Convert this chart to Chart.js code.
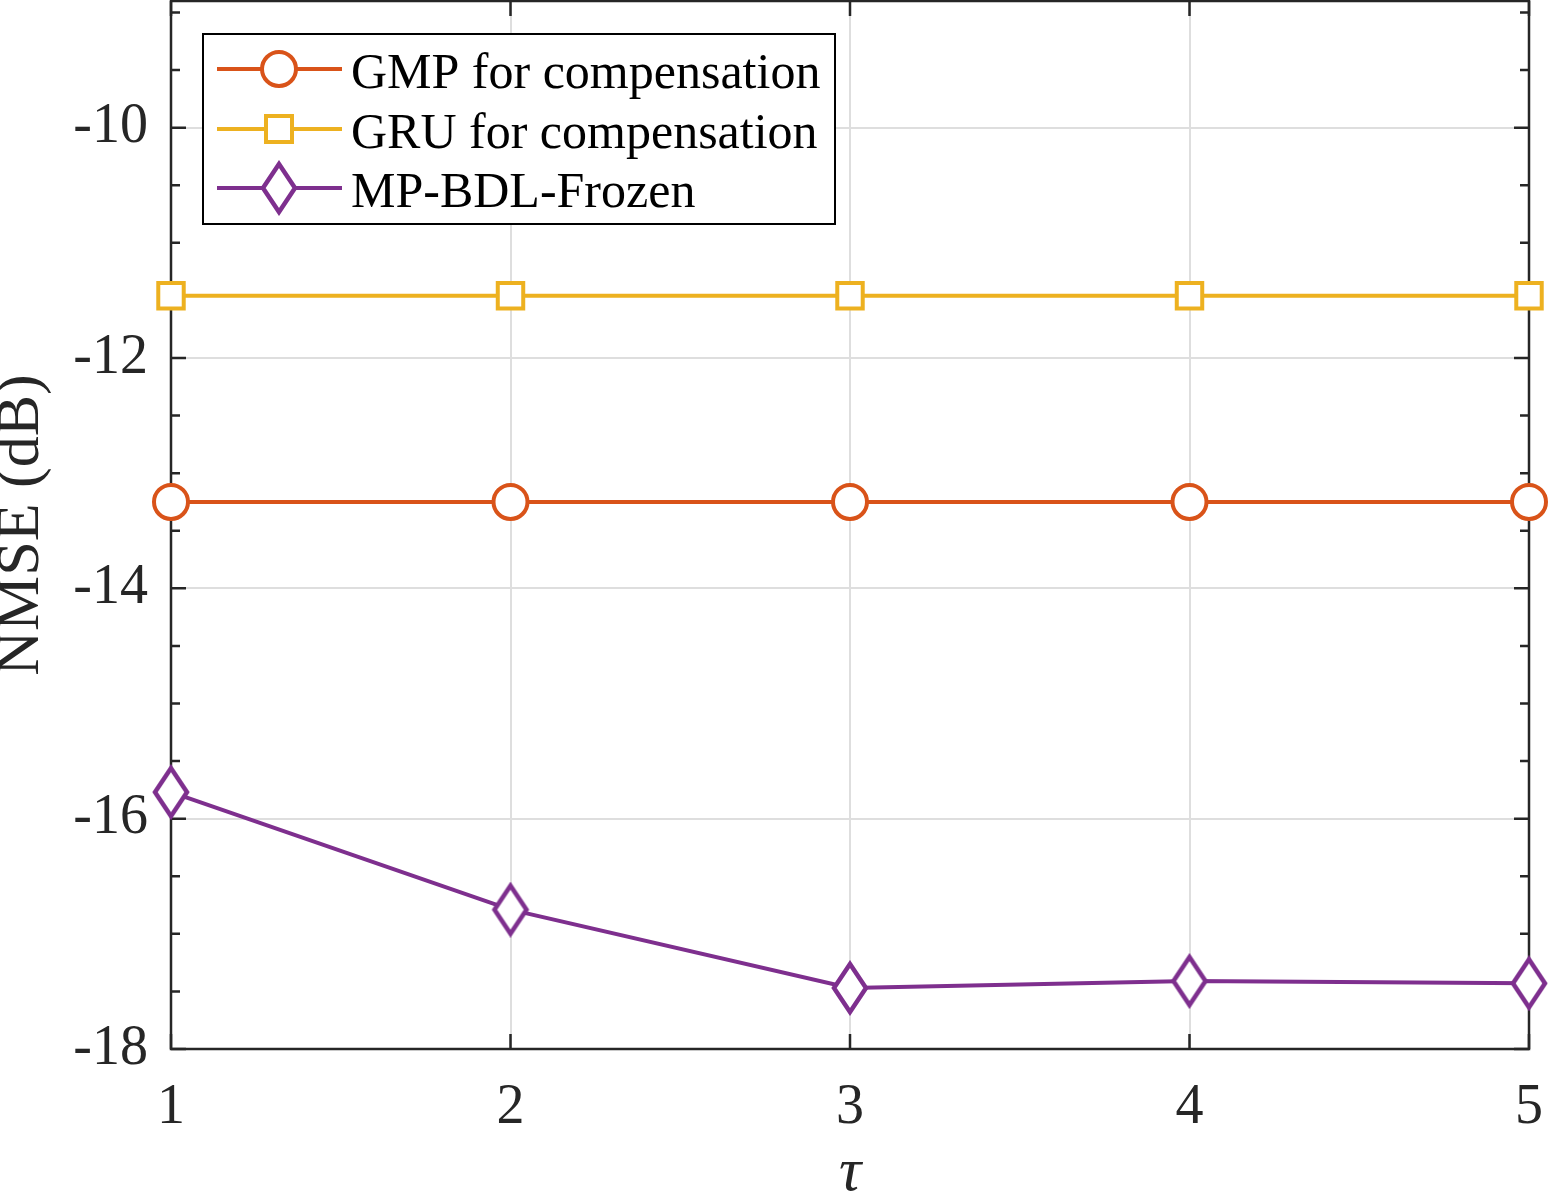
<!DOCTYPE html>
<html>
<head>
<meta charset="utf-8">
<script src="https://cdn.jsdelivr.net/npm/chart.js@4.4.0/dist/chart.umd.min.js"></script>
<style>
  html, body { margin: 0; padding: 0; background: #fff; }
  canvas { display: block; }
</style>
</head>
<body>
<canvas id="myChart" width="1548" height="1196"></canvas>
<script>
// data
const tau = [1, 2, 3, 4, 5]
const gmpComp = [-13.25, -13.25, -13.25, -13.25, -13.25]
const gruComp = [-11.46, -11.46, -11.46, -11.46, -11.46]
const mpBdlFrozen = [-15.77, -16.79, -17.47, -17.41, -17.43]
const seriesNames = ['GMP for compensation', 'GRU for compensation', 'MP-BDL-Frozen']
const xTickValues = [1, 2, 3, 4, 5]
const yTickValues = [-18, -16, -14, -12, -10]
const yMinorStep = 0.5

const FONT = "'Liberation Serif', 'Times New Roman', serif"
const AXIS_COLOR = '#262626'
const colors = ['#D95319', '#EDB120', '#7E2F8E']

// tall diamond like matlab's marker
const makeDiamond = (color) => {
    const c = document.createElement('canvas')
    c.width = 40
    c.height = 56
    const g = c.getContext('2d')
    g.beginPath()
    g.moveTo(20, 4)
    g.lineTo(36, 28)
    g.lineTo(20, 52)
    g.lineTo(4, 28)
    g.closePath()
    g.fillStyle = '#fff'
    g.fill()
    g.lineWidth = 4.5
    g.strokeStyle = color
    g.stroke()
    return c
}
const diamond = makeDiamond(colors[2])

// box, inward ticks
const frameTicks = {
    id: 'frameTicks',
    beforeDatasetsDraw(chart) {
        const { ctx, chartArea: a, scales } = chart
        ctx.save()
        ctx.strokeStyle = AXIS_COLOR
        ctx.lineWidth = 2.5
        ctx.beginPath()
        // y ticks every 0.5, long on the labelled ones
        for (let v = yTickValues[0]; v <= scales.y.max + 1e-9; v += yMinorStep) {
            const py = scales.y.getPixelForValue(v)
            const len = (yTickValues.includes(v)) ? 15 : 9
            ctx.moveTo(a.left, py); ctx.lineTo(a.left + len, py)
            ctx.moveTo(a.right, py); ctx.lineTo(a.right - len, py)
        }
        xTickValues.forEach(v => {
            const px = scales.x.getPixelForValue(v)
            ctx.moveTo(px, a.bottom); ctx.lineTo(px, a.bottom - 15)
            ctx.moveTo(px, a.top); ctx.lineTo(px, a.top + 15)
        })
        ctx.stroke()
        ctx.strokeRect(a.left, a.top, a.right - a.left, a.bottom - a.top)
        ctx.restore()
    }
}

// legend with line through the marker
const boxLegend = {
    id: 'boxLegend',
    afterDraw(chart) {
        const ctx = chart.ctx
        const bx = 203, by = 34, bw = 632, bh = 190
        ctx.save()
        ctx.fillStyle = '#fff'
        ctx.fillRect(bx, by, bw, bh)
        ctx.strokeStyle = '#000'
        ctx.lineWidth = 2
        ctx.strokeRect(bx, by, bw, bh)
        const rows = [69, 129, 188]
        chart.data.datasets.forEach((ds, i) => {
            const y = rows[i]
            ctx.strokeStyle = ds.borderColor
            ctx.lineWidth = 4
            ctx.beginPath()
            ctx.moveTo(217, y); ctx.lineTo(342, y)
            ctx.stroke()
            ctx.fillStyle = '#fff'
            if (i === 0) {
                ctx.beginPath(); ctx.arc(279, y, 17, 0, Math.PI * 2); ctx.fill(); ctx.stroke()
            } else if (i === 1) {
                ctx.fillRect(266, y - 13, 26, 26); ctx.strokeRect(266, y - 13, 26, 26)
            } else {
                ctx.drawImage(diamond, 279 - 20, y - 28)
            }
            ctx.fillStyle = '#000'
            ctx.font = '50px ' + FONT
            ctx.textBaseline = 'alphabetic'
            ctx.fillText(ds.label, 351, y + 19)
        })
        ctx.restore()
    }
}

const data = {
    labels: tau,
    datasets: [{
        label: seriesNames[0],
        data: tau.map((t, i) => ({ x: t, y: gmpComp[i] })),
        borderColor: colors[0],
        borderWidth: 4,
        backgroundColor: '#fff',
        pointStyle: 'circle',
        pointRadius: 17,
        pointBorderWidth: 4
    }, {
        label: seriesNames[1],
        data: tau.map((t, i) => ({ x: t, y: gruComp[i] })),
        borderColor: colors[1],
        borderWidth: 4,
        backgroundColor: '#fff',
        pointStyle: 'rect',
        pointRadius: 18,
        pointBorderWidth: 4
    }, {
        label: seriesNames[2],
        data: tau.map((t, i) => ({ x: t, y: mpBdlFrozen[i] })),
        borderColor: colors[2],
        borderWidth: 4,
        backgroundColor: '#fff',
        pointStyle: diamond,
        pointRadius: 18,
        pointBorderWidth: 4
    }]
}

const config = {
    type: 'line',
    data: data,
    options: {
        responsive: false,
        animation: false,
        devicePixelRatio: 1,
        layout: { autoPadding: false, padding: { left: 0, top: 1, right: 19, bottom: 0 } },
        elements: { line: { borderWidth: 4, tension: 0 } },
        datasets: { line: { clip: false } },
        plugins: { legend: { display: false }, tooltip: { enabled: false } },
        scales: {
            x: {
                type: 'linear',
                min: 1,
                max: 5,
                afterBuildTicks: (s) => { s.ticks = xTickValues.map(v => ({ value: v })) },
                afterFit: (s) => { s.height = 147; s.paddingLeft = 0; s.paddingRight = 0 },
                grid: { color: '#dedede', lineWidth: 2, drawTicks: false },
                border: { display: false },
                ticks: {
                    padding: 26,
                    color: AXIS_COLOR,
                    font: { family: FONT, size: 56 },
                    maxRotation: 0
                },
                title: {
                    display: true,
                    text: 'τ',
                    color: AXIS_COLOR,
                    padding: 0,
                    font: { family: FONT, size: 62, style: 'italic', lineHeight: 0.71 }
                }
            },
            y: {
                min: -18,
                max: -8.9,
                afterBuildTicks: (s) => { s.ticks = yTickValues.map(v => ({ value: v })) },
                afterFit: (s) => { s.width = 171; s.paddingTop = 0; s.paddingBottom = 0 },
                grid: { color: '#dedede', lineWidth: 2, drawTicks: false },
                border: { display: false },
                ticks: {
                    padding: 23,
                    color: AXIS_COLOR,
                    font: { family: FONT, size: 56 }
                },
                title: {
                    display: true,
                    text: 'NMSE (dB)',
                    color: AXIS_COLOR,
                    padding: 0,
                    font: { family: FONT, size: 62, lineHeight: 0.71 }
                }
            }
        }
    },
    plugins: [frameTicks, boxLegend]
}

let myChart = new Chart(document.getElementById('myChart'), config)
</script>
</body>
</html>
